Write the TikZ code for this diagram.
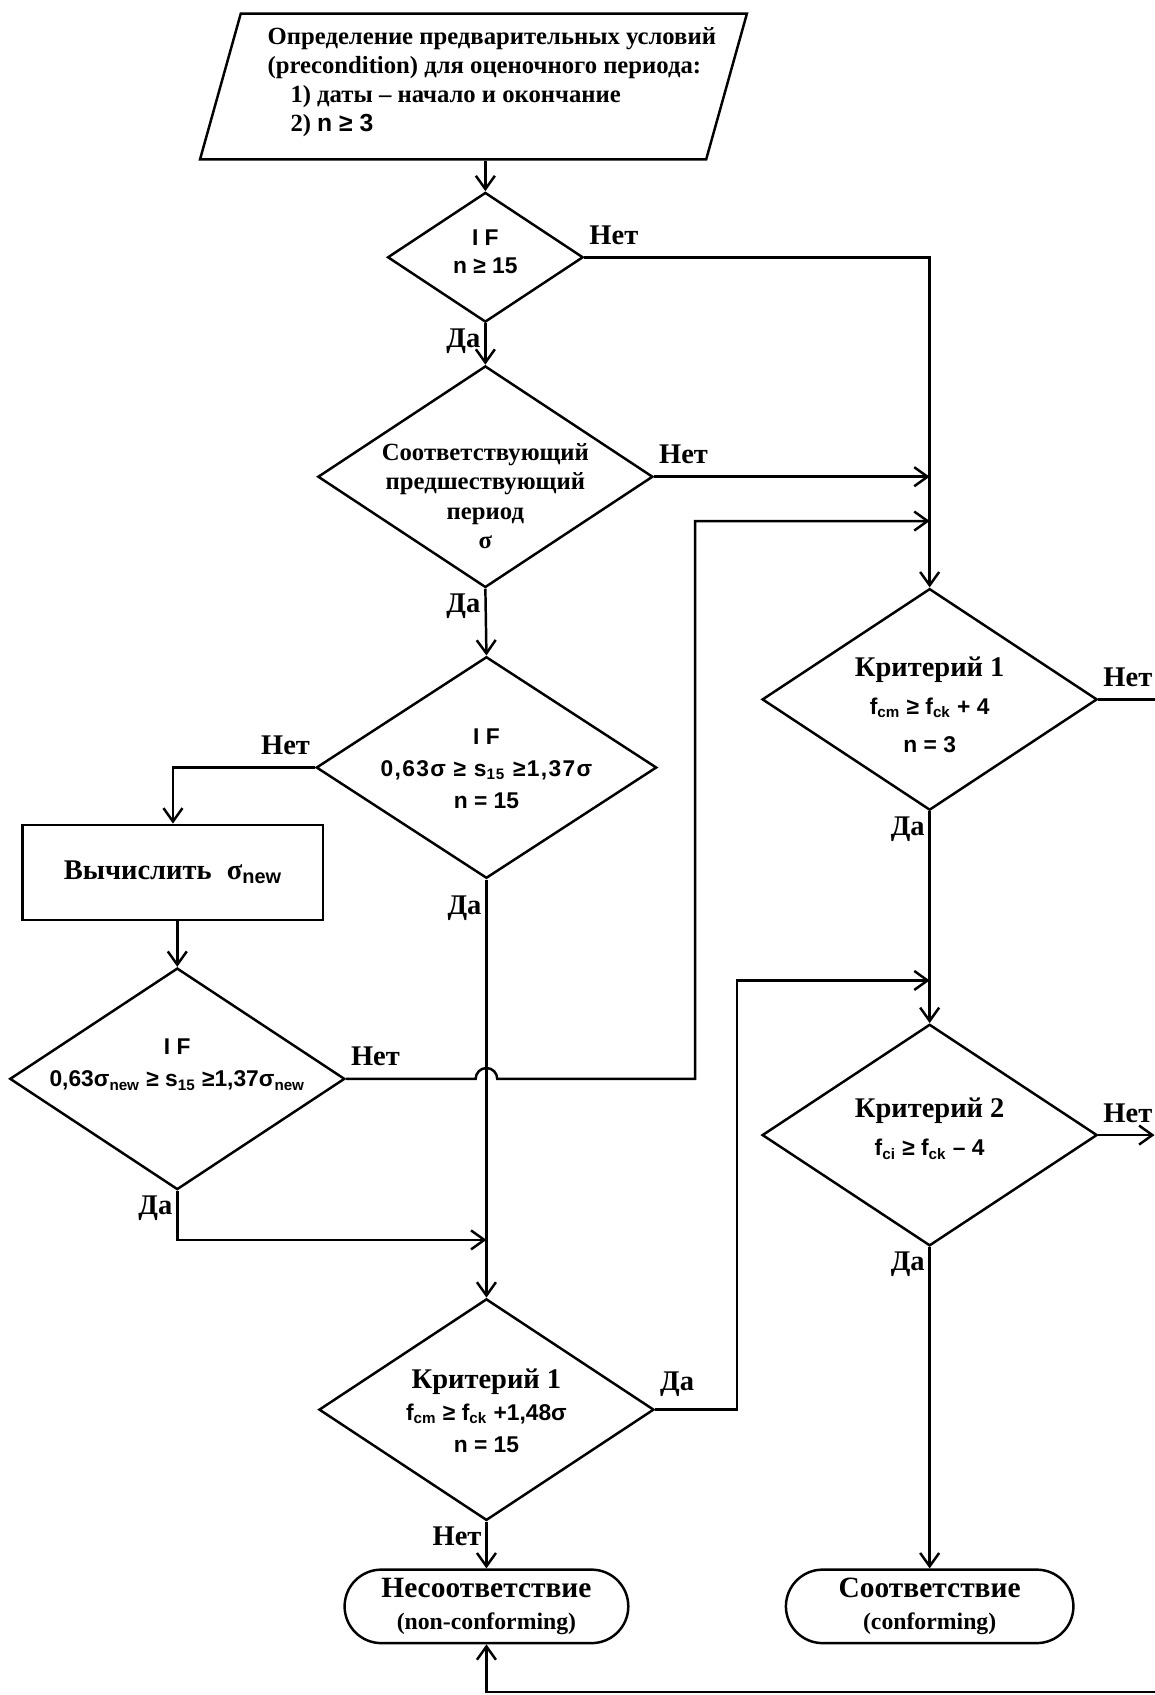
\documentclass[tikz,border=0pt]{standalone}
\usepackage{fontspec}
\setmainfont{Liberation Serif}
\newfontfamily\formfont{Liberation Sans}
\newcommand{\critfont}{\rmfamily\bfseries\fontsize{15}{17}\selectfont}
\usetikzlibrary{arrows.meta,calc,shapes.geometric,shapes.misc}

\begin{document}
\begin{tikzpicture}[x=0.02cm,y=-0.02cm,line width=1.3pt,
	>={Straight Barb[length=7pt,width=10pt]},
	every node/.style={font=\bfseries\fontsize{13}{15.4}\selectfont,inner sep=2pt},
	lbl/.style={font=\bfseries\fontsize{15}{17}\selectfont,inner sep=2pt},
	up/.style={lbl,yshift=4pt},
	form/.style={font=\formfont\bfseries\fontsize{12}{17}\selectfont,align=center},
	decision/.style={draw,diamond,inner sep=0pt,minimum width=6.2cm,minimum height=4.1cm},
	terminal/.style={draw,rounded rectangle,align=center,inner sep=0pt,minimum width=5.25cm,minimum height=1.36cm,font=\bfseries\fontsize{15.5}{17}\selectfont}]
	\useasboundingbox (0,0) rectangle (1068,1568);
	\node[draw,trapezium,trapezium left angle=83.5,trapezium right angle=96.5,trapezium stretches=true,inner sep=2pt,minimum width=10.14cm,minimum height=2.7cm] at (438,80) (pre) {\phantom{M}};
	\node[align=left] at (455,76) (pretext) {Определение предварительных условий\\(precondition) для оценочного периода:\\\hspace*{12pt}1) даты – начало и окончание\\\hspace*{12pt}2) {\formfont n ≥ 3}};
	\node[decision,minimum width=3.62cm,minimum height=2.4cm] at (449,238) (n15) {};
	\node[form,font=\formfont\bfseries\fontsize{12}{15}\selectfont] at (449,233) (n15t) {I F\\n ≥ 15};
	\node[decision] at (449,441) (prev) {};
	\node[align=center] at (449,459) (prevt) {Соответствующий\\предшествующий\\период\\σ};
	\node[decision,minimum width=6.3cm] at (450,710) (sig) {};
	\node[form] at (450,711) (sigt) {I F\\{\addfontfeature{LetterSpace=6}0,63σ ≥ s\textsubscript{15} ≥1,37σ}\\n = 15};
	\node[draw,inner sep=0pt,minimum width=5.56cm,minimum height=1.76cm,font=\bfseries\fontsize{15}{17}\selectfont] at (160,807) (calc) {Вычислить\hspace{8pt}σ\textsubscript{\formfont new}};
	\node[decision] at (164,998) (signew) {};
	\node[form] at (164,985) (signewt) {I F\\0,63σ\textsubscript{new} ≥ s\textsubscript{15} ≥1,37σ\textsubscript{new}};
	\node[decision] at (450,1304) (crit15) {};
	\node[form] at (450,1305) (crit15t) {{\critfont Критерий 1}\\f\textsubscript{cm} ≥ f\textsubscript{ck} +1,48σ\\n = 15};
	\node[decision] at (860,647) (crit3) {};
	\node[form,font=\formfont\bfseries\fontsize{12}{20}\selectfont] at (860,652) (crit3t) {{\critfont Критерий 1}\\f\textsubscript{cm} ≥ f\textsubscript{ck} + 4\\n = 3};
	\node[decision] at (860,1050) (crit2) {};
	\node[form,font=\formfont\bfseries\fontsize{12}{20}\selectfont] at (860,1044) (crit2t) {{\critfont Критерий 2}\\f\textsubscript{ci} ≥ f\textsubscript{ck} – 4};
	\node[terminal] at (450,1486) (bad) {Несоответствие\\{\fontsize{12.5}{14}\selectfont(non-conforming)}};
	\node[terminal,minimum width=5.32cm] at (860,1486) (good) {Соответствие\\{\fontsize{12.5}{14}\selectfont(conforming)}};
	\coordinate (jog) at (643,482);
	\coordinate (jog2) at (682,907);
	\coordinate (merge) at (450,1147);
	\coordinate (out3) at (1068,647);
	\coordinate (out2) at (1068,1050);
	\coordinate (back) at (1068,1565);
	\draw[->] (pre.south -| n15.north) -- (n15.north);
	\draw[->] (n15.east) node[up,above right] {Нет} -| (crit3.north);
	\draw[->] (n15.south) node[lbl,below left] {Да} -- (prev.north);
	\draw[->] (prev.east) node[up,above right] {Нет} -- (prev.east -| crit3.north);
	\draw[->] (prev.south) node[lbl,below left] {Да} -- (sig.north);
	\draw[->] (sig.west) node[up,above left] {Нет} -| (calc.north);
	\draw[->] (calc.south -| signew.north) -- (signew.north);
	\draw[->] (signew.east) node[up,above right] {Нет} -- ($(signew.east -| sig.south)+(-10,0)$) arc[start angle=180,end angle=0,radius=0.2cm] -- (signew.east -| jog) -- (jog) -- (jog -| crit3.north);
	\draw[->] (signew.south) node[lbl,below left] {Да} |- (merge);
	\draw[->] (sig.south) node[lbl,below left,yshift=-6pt] {Да} -- (crit15.north);
	\draw[->] (crit15.east) node[up,above right] {Да} -| (jog2) -- (jog2 -| crit3.north);
	\draw[->] (crit15.south) node[lbl,below left] {Нет} -- (bad.north);
	\draw (crit3.east) node[up,above right] {Нет} -- (out3);
	\draw[->] (crit3.south) node[lbl,below left] {Да} -- (crit2.north);
	\draw[->] (crit2.east) node[up,above right] {Нет} -- (out2);
	\draw[->] (crit2.south) node[lbl,below left] {Да} -- (good.north);
	\draw[->] (back) -| (bad.south);
\end{tikzpicture}
\end{document}
